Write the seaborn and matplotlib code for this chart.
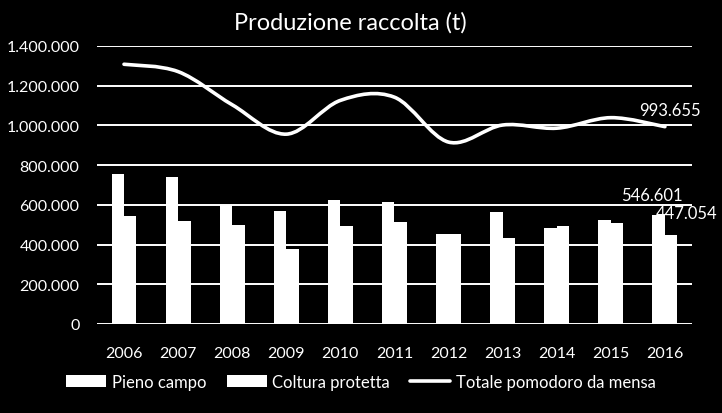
import numpy as np
import pandas as pd
import matplotlib
matplotlib.use("Agg")
import matplotlib.pyplot as plt
from matplotlib.path import Path
from matplotlib.patches import PathPatch, Patch
from matplotlib.lines import Line2D
from matplotlib.ticker import FuncFormatter
import seaborn as sns

years = ["2006", "2007", "2008", "2009", "2010", "2011", "2012", "2013", "2014", "2015", "2016"]
pieno_campo = [757000, 740000, 597000, 569000, 625000, 615000, 453000, 564000, 484000, 524000, 546601]
coltura_protetta = [544000, 519000, 499000, 378000, 494000, 514000, 453000, 433000, 494000, 510000, 447054]
totale = [1308000, 1271000, 1104000, 956000, 1126000, 1142000, 916000, 1002000, 986000, 1039000, 993655]
series_names = ["Pieno campo", "Coltura protetta", "Totale pomodoro da mensa"]
yticks = [0, 200000, 400000, 600000, 800000, 1000000, 1200000, 1400000]

sns.set_theme(style="dark")
plt.rcParams["font.family"] = ["Lato", "DejaVu Sans"]

df = pd.DataFrame({
    "Anno": years * 2,
    "Valore": pieno_campo + coltura_protetta,
    "Serie": [series_names[0]] * len(years) + [series_names[1]] * len(years),
})

fig = plt.figure(figsize=(7.22, 4.14), dpi=100, facecolor="black")
ax = fig.add_axes([0.1343, 0.2150, 0.8241, 0.6715])
ax.set_facecolor("black")

for t in yticks:
    ax.axhline(t, color="white", lw=1.4, zorder=0)

sns.barplot(data=df, x="Anno", y="Valore", hue="Serie", palette=["white", "white"],
            width=0.46, saturation=1, edgecolor="none", linewidth=0, legend=False,
            ax=ax, zorder=2)

# smoothed line (Catmull-Rom -> cubic Bezier, like a smoothed spreadsheet line)
xs = np.arange(len(years), dtype=float)
ys = np.array(totale, dtype=float)
verts = [(xs[0], ys[0])]
codes = [Path.MOVETO]
n = len(xs)
for i in range(n - 1):
    p0 = np.array([xs[max(i - 1, 0)], ys[max(i - 1, 0)]])
    p1 = np.array([xs[i], ys[i]])
    p2 = np.array([xs[i + 1], ys[i + 1]])
    p3 = np.array([xs[min(i + 2, n - 1)], ys[min(i + 2, n - 1)]])
    c1 = p1 + (p2 - p0) / 6.0
    c2 = p2 - (p3 - p1) / 6.0
    verts += [tuple(c1), tuple(c2), tuple(p2)]
    codes += [Path.CURVE4, Path.CURVE4, Path.CURVE4]
patch = PathPatch(Path(verts, codes), facecolor="none", edgecolor="white", lw=2.6,
                  capstyle="round", joinstyle="round", zorder=3)
ax.add_patch(patch)

ax.set_ylim(0, 1400000)
ax.set_xlim(-0.5, len(years) - 0.5)
ax.set_yticks(yticks)
ax.yaxis.set_major_formatter(FuncFormatter(lambda v, p: f"{int(v):,}".replace(",", ".")))
ax.tick_params(axis="both", colors="white", labelsize=11.5, length=0)
ax.tick_params(axis="y", pad=12.5)
ax.tick_params(axis="x", pad=16)
ax.set_xlabel("")
ax.set_ylabel("")
for s in ax.spines.values():
    s.set_visible(False)
ax.grid(False)

def fmt(v):
    return f"{int(v):,}".replace(",", ".")

ax.annotate(fmt(totale[-1]), (xs[-1], totale[-1]), xytext=(3.5, 6), textcoords="offset points",
            ha="center", va="bottom", color="white", fontsize=12)
ax.annotate(fmt(pieno_campo[-1]), (xs[-1] - 0.115, pieno_campo[-1]), xytext=(-5, 9),
            textcoords="offset points", ha="center", va="bottom", color="white", fontsize=12)
ax.annotate(fmt(coltura_protetta[-1]), (xs[-1] + 0.115, coltura_protetta[-1]), xytext=(11, 10.5),
            textcoords="offset points", ha="center", va="bottom", color="white", fontsize=12)

fig.text(0.485, 0.945, "Produzione raccolta (t)", ha="center", va="center", color="white", fontsize=17)

handles = [Patch(facecolor="white", edgecolor="none"),
           Patch(facecolor="white", edgecolor="none"),
           Line2D([0], [0], color="white", lw=2.6)]
leg = fig.legend(handles, series_names, loc="center", bbox_to_anchor=(0.5, 0.075), ncol=3,
                 frameon=False, fontsize=12, labelcolor="white", handlelength=2.4,
                 handletextpad=0.35, columnspacing=1.2)

fig.savefig("out.png", dpi=100, facecolor="black")
